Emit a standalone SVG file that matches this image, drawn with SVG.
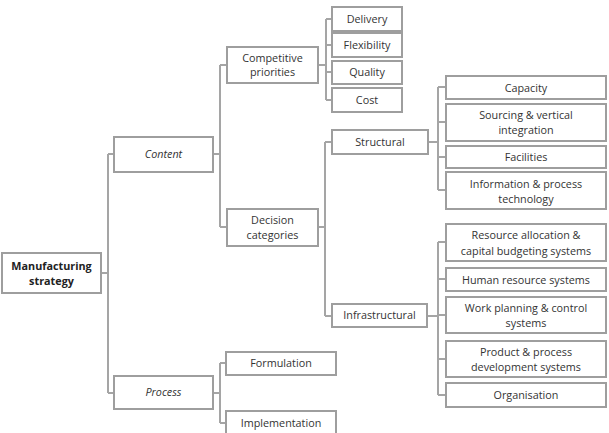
<svg xmlns="http://www.w3.org/2000/svg" width="609" height="433" viewBox="0 0 609 433">
<style>
.b{fill:#fff;stroke:#9e9e9e;stroke-width:2}
.c{fill:none;stroke:#a5a5a5;stroke-width:2}
text{font-family:"Open Sans","Noto Sans",sans-serif;font-size:10.8px;fill:#333;text-anchor:middle}
.bold{font-weight:bold;fill:#222}
.it{font-style:italic}
</style>
<rect width="609" height="433" fill="#fff"/>
<g id="connectors">
<path class="c" d="M101 273H108M108 154V393M108 154H114M108 393H114"/>
<path class="c" d="M213 154H220M220 65V227M220 65H227M220 227H227"/>
<path class="c" d="M318 65H326M326 19V100M326 19H332M326 45H332M326 72H332M326 100H332"/>
<path class="c" d="M318 227H325M325 142V316M325 142H332M325 316H332"/>
<path class="c" d="M428 142H438M438 87V190M438 87H446M438 122H446M438 157H446M438 190H446"/>
<path class="c" d="M427 316H438M438 242V395M438 242H446M438 279H446M438 315H446M438 359H446M438 395H446"/>
<path class="c" d="M213 393H220M220 363V423M220 363H226M220 423H226"/>
</g>
<g id="manufacturing"><rect class="b" x="2" y="253" width="99" height="40"/><text class="bold" x="51.5" y="270">Manufacturing</text><text class="bold" x="51.5" y="285">strategy</text></g>
<g id="content"><rect class="b" x="114" y="137" width="99" height="35"/><text class="it" x="163.5" y="158">Content</text></g>
<g id="process"><rect class="b" x="114" y="376" width="99" height="33"/><text class="it" x="163.5" y="396">Process</text></g>
<g id="competitive"><rect class="b" x="227" y="47" width="91" height="36"/><text x="272.5" y="62">Competitive</text><text x="272.5" y="76">priorities</text></g>
<g id="decision"><rect class="b" x="227" y="209" width="91" height="37"/><text x="272.5" y="224">Decision</text><text x="272.5" y="239">categories</text></g>
<g id="delivery"><rect class="b" x="332" y="7" width="70" height="24"/><text x="367" y="23">Delivery</text></g>
<g id="flexibility"><rect class="b" x="332" y="33" width="70" height="24"/><text x="367" y="49">Flexibility</text></g>
<g id="quality"><rect class="b" x="332" y="61" width="70" height="23"/><text x="367" y="76">Quality</text></g>
<g id="cost"><rect class="b" x="332" y="88" width="70" height="24"/><text x="367" y="104">Cost</text></g>
<g id="structural"><rect class="b" x="332" y="130" width="96" height="24"/><text x="380" y="146">Structural</text></g>
<g id="infrastructural"><rect class="b" x="332" y="304" width="95" height="23"/><text x="379.5" y="319">Infrastructural</text></g>
<g id="capacity"><rect class="b" x="446" y="76" width="160" height="23"/><text x="526" y="92">Capacity</text></g>
<g id="sourcing"><rect class="b" x="446" y="104" width="160" height="37"/><text x="526" y="119">Sourcing &amp; vertical</text><text x="526" y="134">integration</text></g>
<g id="facilities"><rect class="b" x="446" y="146" width="160" height="22"/><text x="526" y="161">Facilities</text></g>
<g id="information"><rect class="b" x="446" y="172" width="160" height="37"/><text x="526" y="188">Information &amp; process</text><text x="526" y="203">technology</text></g>
<g id="resource"><rect class="b" x="446" y="224" width="160" height="37"/><text x="526" y="239">Resource allocation &amp;</text><text x="526" y="255">capital budgeting systems</text></g>
<g id="human"><rect class="b" x="446" y="268" width="160" height="23"/><text x="526" y="284">Human resource systems</text></g>
<g id="work"><rect class="b" x="446" y="297" width="160" height="36"/><text x="526" y="312">Work planning &amp; control</text><text x="526" y="327">systems</text></g>
<g id="product"><rect class="b" x="446" y="341" width="160" height="36"/><text x="526" y="356">Product &amp; process</text><text x="526" y="371">development systems</text></g>
<g id="organisation"><rect class="b" x="446" y="383" width="160" height="24"/><text x="526" y="399">Organisation</text></g>
<g id="formulation"><rect class="b" x="226" y="352" width="110" height="23"/><text x="281" y="367">Formulation</text></g>
<g id="implementation"><rect class="b" x="226" y="411" width="110" height="26"/><text x="281" y="427">Implementation</text></g>
</svg>
